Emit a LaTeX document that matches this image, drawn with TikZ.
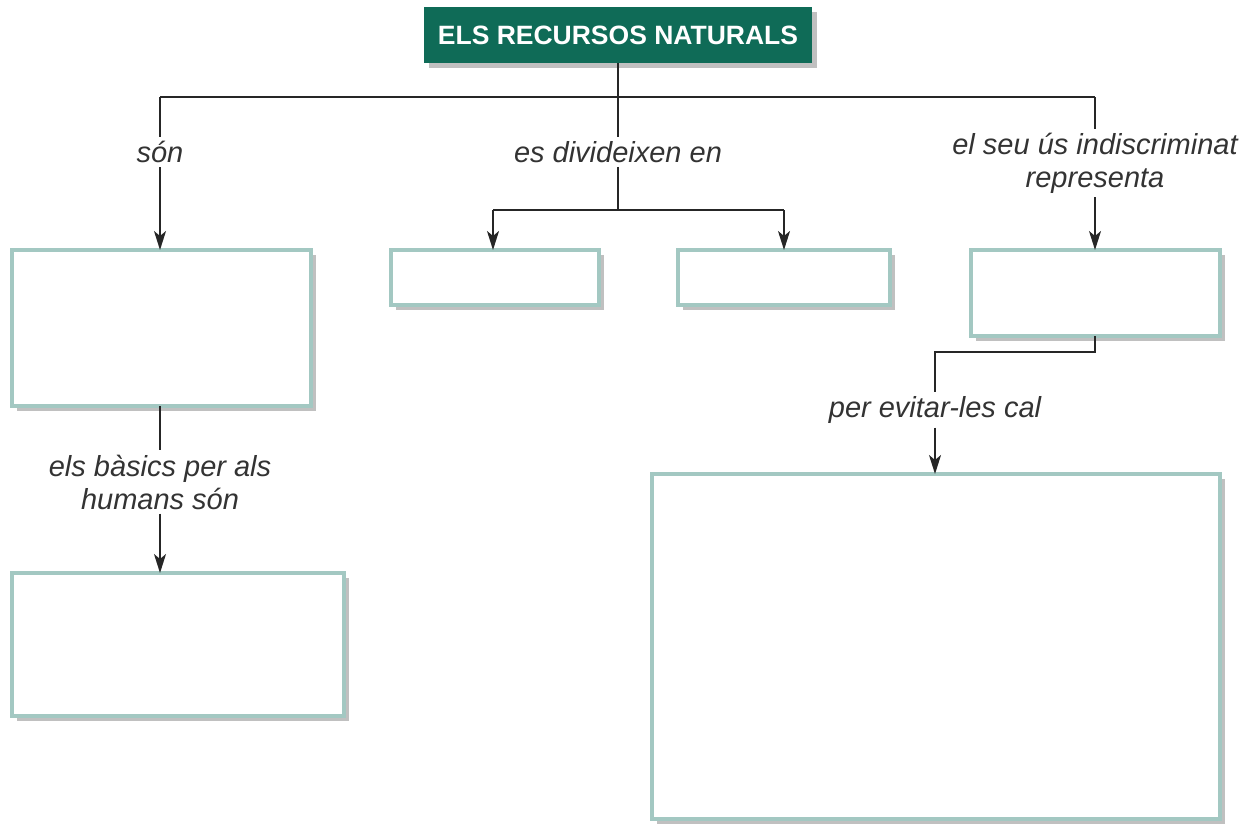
\documentclass[tikz,border=0pt]{standalone}
\usepackage{fontspec}
\setmainfont{Liberation Sans}
\usetikzlibrary{arrows.meta,shadows}
\definecolor{titlegreen}{HTML}{0F6B57}
\definecolor{boxline}{HTML}{A3C8C2}
\definecolor{lbl}{HTML}{333333}
\tikzset{
  box/.style={draw=boxline, line width=3.5pt, fill=white, inner sep=0pt, outer sep=0pt,
    drop shadow={shadow xshift=5pt, shadow yshift=-5pt, fill=black!55, opacity=0.45}},
  titlebox/.style={fill=titlegreen, text=white, inner sep=0pt, outer sep=0pt,
    minimum width=388pt, minimum height=56pt,
    font=\fontsize{26.5}{30}\selectfont\bfseries,
    drop shadow={shadow xshift=5pt, shadow yshift=-5pt, fill=black!55, opacity=0.45}},
  lab/.style={text=lbl, font=\fontsize{29}{33}\selectfont\itshape, align=center, inner sep=4pt},
  conn/.style={line width=1.9pt, draw=black!85},
  arr/.style={conn, -{Stealth[length=19pt, width=12pt, inset=5pt]}}
}
\begin{document}
\begin{tikzpicture}[x=1pt, y=-1pt]
\useasboundingbox (0,0) rectangle (1255,823);
% title
\node[titlebox] (title) at (618,35) {ELS RECURSOS NATURALS};
% boxes
\node[box, minimum width=299pt, minimum height=156pt] (A) at (161.5,328) {};
\node[box, minimum width=332pt, minimum height=143pt] (B) at (178,644.5) {};
\node[box, minimum width=208pt, minimum height=55pt] (C) at (495,277.5) {};
\node[box, minimum width=212pt, minimum height=55pt] (D) at (784,277.5) {};
\node[box, minimum width=249pt, minimum height=86pt] (E) at (1095.5,293) {};
\node[box, minimum width=568pt, minimum height=345pt] (F) at (936,646.5) {};
% labels
\node[lab] (lSon) at (160,152) {són};
\node[lab] (lDiv) at (618,152) {es divideixen en};
\node[lab] (lUs) at (1095,163) {el seu ús indiscriminat\\representa};
\node[lab] (lBas) at (160,482) {els bàsics per als\\humans són};
\node[lab] (lEvi) at (935,410) {per evitar-les cal};
% junction coordinates
\coordinate (jT) at (618,97);
\coordinate (hL) at (160,97);
\coordinate (hR) at (1095,97);
\coordinate (jD) at (618,210);
\coordinate (dL) at (493,210);
\coordinate (dR) at (784,210);
\coordinate (eB) at (1095,352);
\coordinate (eL) at (935,352);
% connectors
\draw[conn] (title.south) -- (jT);
\draw[conn] (hL) -- (hR);
\draw[conn] (hL) -- (lSon.north);
\draw[arr] (lSon.south) -- (lSon.south |- A.north);
\draw[conn] (A.south -| lBas.north) -- (lBas.north);
\draw[arr] (lBas.south) -- (lBas.south |- B.north);
\draw[conn] (jT) -- (lDiv.north);
\draw[conn] (lDiv.south) -- (jD);
\draw[conn] (dL) -- (dR);
\draw[arr] (dL) -- (dL |- C.north);
\draw[arr] (dR) -- (dR |- D.north);
\draw[conn] (hR) -- (lUs.north);
\draw[arr] (lUs.south) -- (lUs.south |- E.north);
\draw[conn] (E.south -| eB) -- (eB) -- (eL) -- (lEvi.north);
\draw[arr] (lEvi.south) -- (lEvi.south |- F.north);
\end{tikzpicture}
\end{document}
